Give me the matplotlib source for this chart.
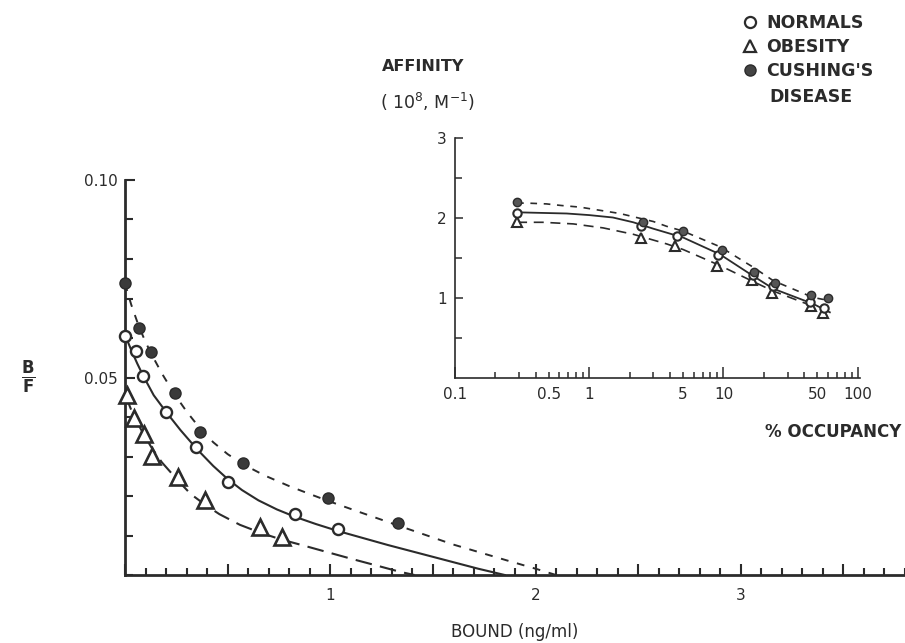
import matplotlib
matplotlib.use("Agg")
import matplotlib.pyplot as plt
from matplotlib.ticker import MultipleLocator, FixedLocator, FuncFormatter
from matplotlib.lines import Line2D

# ---------------- main Scatchard plot data ----------------
normal_x = [0.0, 0.055, 0.088, 0.202, 0.348, 0.502, 0.828, 1.039]
normal_y = [0.0605, 0.0567, 0.0504, 0.0413, 0.0325, 0.0236, 0.0154, 0.0116]
obesity_x = [0.008, 0.044, 0.093, 0.133, 0.259, 0.392, 0.657, 0.763]
obesity_y = [0.0455, 0.0397, 0.0357, 0.0302, 0.0247, 0.0190, 0.0122, 0.0097]
cushing_x = [0.0, 0.067, 0.128, 0.242, 0.364, 0.576, 0.987, 1.332]
cushing_y = [0.0738, 0.0626, 0.0565, 0.0462, 0.0363, 0.0283, 0.0194, 0.0131]

# fitted curves
normal_curve_x = [0, 0.03, 0.06, 0.09, 0.14, 0.2, 0.27, 0.35, 0.43, 0.5, 0.57, 0.65, 0.74,
                  0.83, 0.93, 1.04, 1.28, 1.5, 1.72, 1.85]
normal_curve_y = [0.0608, 0.0570, 0.0535, 0.0503, 0.0455, 0.0413, 0.0367, 0.0319, 0.0276,
                  0.0243, 0.0215, 0.0189, 0.0166, 0.0147, 0.0129, 0.0111, 0.0076, 0.0046,
                  0.0016, 0.0]
obesity_curve_x = [0, 0.04, 0.09, 0.13, 0.18, 0.26, 0.32, 0.39, 0.46, 0.56, 0.66, 0.76, 0.86,
                   0.95, 1.11, 1.24, 1.34, 1.41]
obesity_curve_y = [0.0458, 0.0405, 0.0357, 0.0322, 0.0285, 0.0238, 0.0205, 0.0178, 0.0154,
                   0.0127, 0.0107, 0.0090, 0.0076, 0.0063, 0.0040, 0.0022, 0.0008, 0.0]
cushing_curve_x = [0, 0.03, 0.067, 0.1, 0.128, 0.18, 0.242, 0.3, 0.364, 0.43, 0.5, 0.576,
                   0.68, 0.8, 0.9, 0.987, 1.15, 1.332, 1.6, 1.86, 2.0, 2.1]
cushing_curve_y = [0.0738, 0.0685, 0.0630, 0.0590, 0.0560, 0.0510, 0.0457, 0.0414, 0.0372,
                   0.0336, 0.0306, 0.0280, 0.0252, 0.0225, 0.0205, 0.0188, 0.0158, 0.0125,
                   0.0077, 0.0037, 0.0016, 0.0]

# ---------------- inset (affinity vs % occupancy) data ----------------
in_normal_x = [0.29, 2.45, 4.5, 9.1, 16.5, 23.2, 44, 56]
in_normal_y = [2.07, 1.90, 1.78, 1.54, 1.29, 1.15, 0.96, 0.88]
in_obesity_x = [0.29, 2.45, 4.35, 8.9, 16.2, 22.8, 44.5, 55]
in_obesity_y = [1.95, 1.75, 1.66, 1.40, 1.23, 1.07, 0.90, 0.82]
in_cushing_x = [0.29, 2.5, 5.0, 9.7, 17, 24, 45, 60]
in_cushing_y = [2.20, 1.96, 1.84, 1.60, 1.33, 1.19, 1.04, 1.00]

in_normal_curve_x = [0.29, 0.38, 0.68, 1.0, 1.5, 2.13, 3.0, 5.0, 9.4, 16.6, 23.5, 46.6, 62]
in_normal_curve_y = [2.075, 2.07, 2.06, 2.04, 2.01, 1.95, 1.87, 1.76, 1.55, 1.28, 1.12, 0.93, 0.825]
in_upper_curve_x = [0.29, 0.342, 0.48, 0.62, 0.85, 1.2, 1.69, 3.0, 3.77, 5.0, 9.4, 16.6, 23.5, 46.6, 62]
in_upper_curve_y = [2.19, 2.19, 2.18, 2.16, 2.14, 2.10, 2.06, 1.96, 1.90, 1.84, 1.645, 1.39, 1.22, 1.01, 0.97]
in_lower_curve_x = [0.29, 0.45, 0.76, 1.27, 2.13, 3.77, 5.0, 9.4, 16.6, 23.5, 46.6]
in_lower_curve_y = [1.95, 1.95, 1.93, 1.88, 1.80, 1.68, 1.61, 1.41, 1.21, 1.09, 0.90]

main_xlabels = {1: "1", 2: "2", 3: "3"}
main_ylabels = {0.05: "0.05", 0.10: "0.10"}
inset_major = [0.1, 1, 10, 100]
inset_labels = {0.1: "0.1", 0.5: "0.5", 1: "1", 5: "5", 10: "10", 50: "50", 100: "100"}

INK = "#2b2b2b"
W, H = 905, 643

fig = plt.figure(figsize=(W / 100, H / 100), dpi=100)
fig.patch.set_facecolor("white")

# ---------------- main axes ----------------
ax = fig.add_axes([125 / W, (H - 575) / H, 780 / W, 395 / H])
ax.set_xlim(0, 3.8)
ax.set_ylim(0, 0.10)
for s in ("top", "right"):
    ax.spines[s].set_visible(False)
for s in ("left", "bottom"):
    ax.spines[s].set_linewidth(2.0)
    ax.spines[s].set_color(INK)

ax.plot(normal_curve_x, normal_curve_y, "-", color=INK, lw=1.5, zorder=2)
ax.plot(obesity_curve_x, obesity_curve_y, color=INK, lw=1.5, dashes=(8, 4), zorder=2)
ax.plot(cushing_curve_x, cushing_curve_y, color=INK, lw=1.4, dashes=(4, 4.5), zorder=2)

ax.plot(normal_x, normal_y, "o", ms=8, mfc="white", mec=INK, mew=1.7, clip_on=False, zorder=5)
ax.plot(obesity_x, obesity_y, "^", ms=11, mfc="white", mec=INK, mew=1.9, clip_on=False, zorder=5)
ax.plot(cushing_x, cushing_y, "o", ms=8, mfc="#3a3a3a", mec=INK, mew=1.0, clip_on=False, zorder=5)

ax.xaxis.set_major_locator(MultipleLocator(0.5))
ax.xaxis.set_minor_locator(MultipleLocator(0.1))
ax.xaxis.set_major_formatter(FuncFormatter(
    lambda v, p: main_xlabels.get(int(round(v)), "") if abs(v - round(v)) < 1e-6 else ""))
ax.yaxis.set_major_locator(FixedLocator([0.05, 0.10]))
ax.yaxis.set_minor_locator(MultipleLocator(0.01))
ax.yaxis.set_major_formatter(FuncFormatter(
    lambda v, p: main_ylabels.get(round(v, 2), "")))
ax.tick_params(axis="both", which="both", direction="in", color=INK, width=1.5,
               labelcolor=INK, labelsize=11)
ax.tick_params(axis="x", which="major", length=8, pad=9)
ax.tick_params(axis="x", which="minor", length=5)
ax.tick_params(axis="y", which="major", length=7, pad=5)
ax.tick_params(axis="y", which="minor", length=6)

ax.set_xlabel("BOUND (ng/ml)", fontsize=12, color=INK, labelpad=15)
fig.text(28 / W, 1 - 377 / H, r"$\frac{\mathbf{B}}{\mathbf{F}}$", fontsize=17,
         color=INK, ha="center", va="center")

# ---------------- inset axes ----------------
ax2 = fig.add_axes([455 / W, (H - 378.3) / H, 405 / W, 240 / H])
ax2.set_xscale("log")
ax2.set_xlim(0.1, 104)
ax2.set_ylim(0, 3)
ax2.patch.set_alpha(0)
for s in ("top", "right"):
    ax2.spines[s].set_visible(False)
for s in ("left", "bottom"):
    ax2.spines[s].set_linewidth(1.2)
    ax2.spines[s].set_color(INK)

ax2.plot(in_upper_curve_x, in_upper_curve_y, color=INK, lw=1.2, dashes=(4, 4), zorder=2)
ax2.plot(in_normal_curve_x, in_normal_curve_y, "-", color=INK, lw=1.3, zorder=2)
ax2.plot(in_lower_curve_x, in_lower_curve_y, color=INK, lw=1.2, dashes=(6, 4), zorder=2)

ax2.plot(in_obesity_x, in_obesity_y, "^", ms=7, mfc="white", mec=INK, mew=1.5, zorder=4)
ax2.plot(in_normal_x, in_normal_y, "o", ms=6, mfc="white", mec=INK, mew=1.5, zorder=5)
ax2.plot(in_cushing_x, in_cushing_y, "o", ms=6, mfc="#555555", mec=INK, mew=1.0, zorder=6)

ax2.xaxis.set_major_locator(FixedLocator(inset_major))
minor_ticks = [m * d for d in (0.1, 1, 10) for m in range(2, 10)]
ax2.xaxis.set_minor_locator(FixedLocator(minor_ticks))
ax2.xaxis.set_major_formatter(FuncFormatter(lambda v, p: inset_labels.get(v, "")))
ax2.xaxis.set_minor_formatter(FuncFormatter(
    lambda v, p: inset_labels.get(round(v, 3), "") if round(v, 3) in (0.5, 5, 50) else ""))
ax2.yaxis.set_major_locator(FixedLocator([1, 2, 3]))
ax2.yaxis.set_minor_locator(FixedLocator([0.5, 1.5, 2.5]))
ax2.yaxis.set_major_formatter(FuncFormatter(lambda v, p: str(int(v))))
ax2.tick_params(axis="both", which="both", direction="in", color=INK, width=1.1,
                labelcolor=INK, labelsize=11)
ax2.tick_params(axis="x", which="major", length=8, pad=6)
ax2.tick_params(axis="x", which="minor", length=4, pad=6)
ax2.tick_params(axis="y", which="major", length=6, pad=6)
ax2.tick_params(axis="y", which="minor", length=5)

fig.text(382 / W, 1 - 66.7 / H, "AFFINITY", fontsize=11.5, fontweight="bold",
         color=INK, ha="left", va="center")
fig.text(380 / W, 1 - 102 / H, r"( 10$^{8}$, M$^{-1}$)", fontsize=12.5,
         color=INK, ha="left", va="center")
fig.text(765 / W, 1 - 432 / H, "% OCCUPANCY", fontsize=12, fontweight="bold",
         color=INK, ha="left", va="center")

# ---------------- legend ----------------
handles = [
    Line2D([], [], ls="none", marker="o", ms=8, mfc="white", mec=INK, mew=1.6),
    Line2D([], [], ls="none", marker="^", ms=8, mfc="white", mec=INK, mew=1.6),
    Line2D([], [], ls="none", marker="o", ms=8, mfc="#444444", mec=INK, mew=1.0),
]
labels = ["NORMALS", "OBESITY", "CUSHING'S"]
fig.legend(handles, labels, loc="upper left", bbox_to_anchor=(742 / W, 1 - 14 / H),
           frameon=False, borderpad=0, borderaxespad=0, handlelength=0.9,
           handletextpad=0.5, labelspacing=0.35,
           prop={"size": 12.5, "weight": "bold"}, labelcolor=INK)
fig.text(769 / W, 1 - 97 / H, "DISEASE", fontsize=12.5, fontweight="bold",
         color=INK, ha="left", va="center")

fig.savefig("out.png", dpi=100)
